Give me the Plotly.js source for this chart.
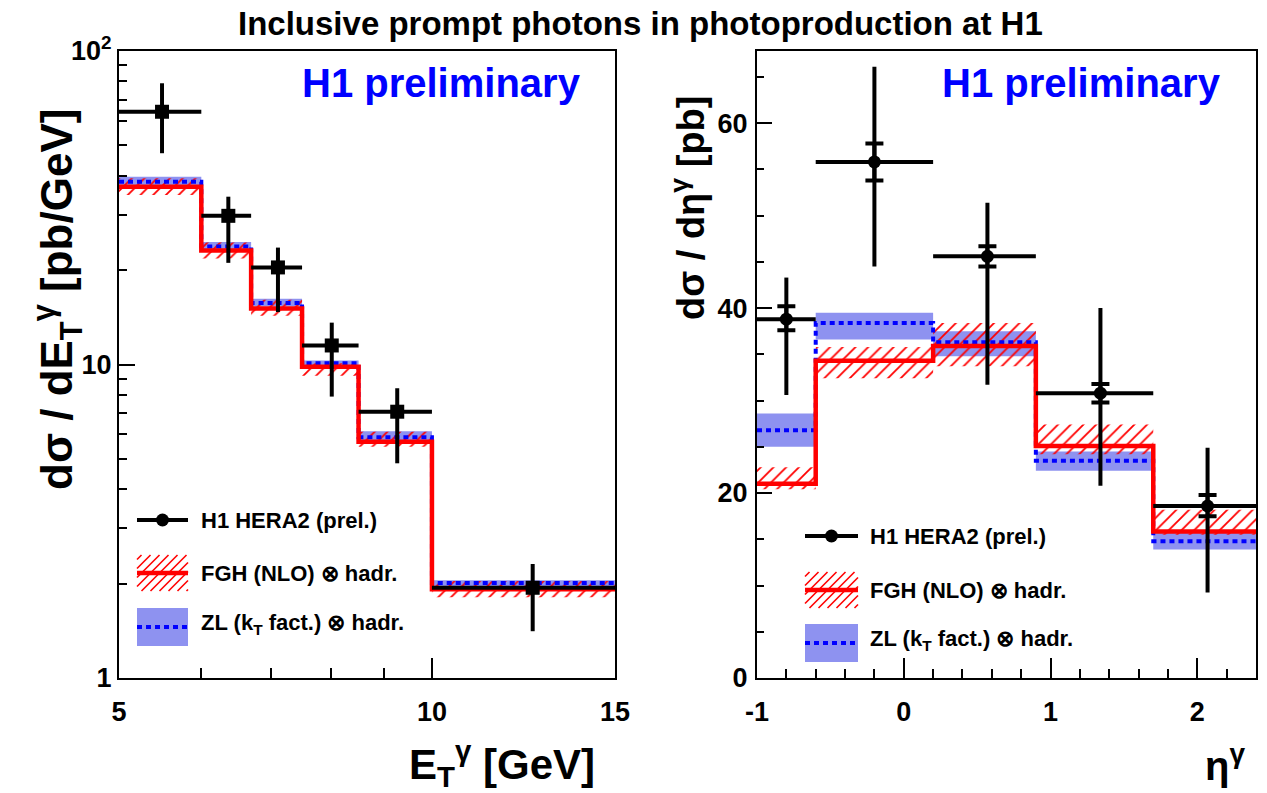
<!DOCTYPE html>
<html>
<head>
<meta charset="utf-8">
<script src="https://cdn.plot.ly/plotly-3.0.1.min.js"></script>
<style>html,body{margin:0;padding:0;background:#fff;}#chart{width:1267px;height:793px;}</style>
</head>
<body>
<div id="chart"></div>
<script>
// ---------------- data: E_T^gamma panel ----------------
const etEdges = [5, 6, 6.7, 7.5, 8.5, 10, 15];
const etCenters = [5.5, 6.37, 7.11, 8.01, 9.26, 12.5];
const etData = [64, 29.8, 20.4, 11.5, 7.07, 1.94];
const etErrUp = [14.9, 4.5, 3.2, 2.1, 1.33, 0.37];
const etErrDn = [16.8, 8.7, 5.7, 3.6, 2.23, 0.53];
const etFGH = [36.9, 23.1, 15.1, 9.84, 5.67, 1.92];
const etFGHlo = [34.7, 21.8, 14.3, 9.2, 5.47, 1.81];
const etFGHhi = [39.3, 24.5, 16.1, 10.1, 6.1, 2.04];
const etZL = [38.3, 23.8, 15.7, 10.1, 5.86, 2.01];
const etZLlo = [37.4, 23.3, 15.3, 9.9, 5.74, 1.94];
const etZLhi = [39.7, 24.6, 16.2, 10.3, 6.13, 2.05];

// ---------------- data: eta^gamma panel ----------------
const etaEdges = [-1.0, -0.6, 0.2, 0.9, 1.7, 2.4];
const etaCenters = [-0.8, -0.2, 0.57, 1.34, 2.07];
const etaData = [38.8, 55.8, 45.6, 30.8, 18.6];
const etaTotUp = [4.5, 10.3, 5.8, 9.2, 6.3];
const etaTotDn = [8.2, 11.3, 13.9, 10.0, 9.35];
const etaStatUp = [1.4, 2.0, 1.1, 1.0, 1.2];
const etaStatDn = [1.2, 2.0, 1.1, 1.0, 1.1];
const etaFGH = [21.0, 34.3, 35.9, 25.1, 15.85];
const etaFGHlo = [20.4, 32.4, 33.7, 24.2, 15.5];
const etaFGHhi = [22.8, 35.8, 38.4, 27.4, 18.2];
const etaZL = [26.8, 38.4, 36.3, 23.5, 14.8];
const etaZLlo = [25.0, 36.6, 34.8, 22.4, 13.9];
const etaZLhi = [28.6, 39.5, 37.5, 24.5, 15.7];

// ---------------- text ----------------
const mainTitle = 'Inclusive prompt photons in photoproduction at H1';
const prelimLabel = 'H1 preliminary';
const legendLabels = ['H1 HERA2 (prel.)', 'FGH (NLO) \u2297 hadr.', 'ZL (k<sub>T</sub> fact.) \u2297 hadr.'];
const etTickVals = [5, 10, 15];
const etTickText = ['5', '10', '15'];
const xsTickVals = [1, 10, 100];
const xsTickText = ['1', '10', '10<sup>2</sup>'];
const etaTickVals = [-1, 0, 1, 2];
const etaTickText = ['-1', '0', '1', '2'];
const dsTickVals = [0, 20, 40, 60];
const dsTickText = ['0', '20', '40', '60'];

// ---------------- styles ----------------
const W = 1267, H = 793;
const FONT = 'Liberation Sans, Arial, Helvetica, sans-serif';
const RED = '#ff0000';
const BLUE = '#0000ff';
const BAND = 'rgb(142,146,240)';
const px = x => x / W;
const py = y => 1 - y / H;

function bandPolys(edges, lo, hi) {
  const xs = [], ys = [];
  for (let i = 0; i < lo.length; i++) {
    xs.push(edges[i], edges[i + 1], edges[i + 1], edges[i], edges[i], null);
    ys.push(lo[i], lo[i], hi[i], hi[i], lo[i], null);
  }
  return {xs, ys};
}
function stepY(vals) { return vals.concat([vals[vals.length - 1]]); }

function panelTraces(edges, fgh, fghLo, fghHi, zl, zlLo, zlHi, xa, ya) {
  const zb = bandPolys(edges, zlLo, zlHi);
  const fb = bandPolys(edges, fghLo, fghHi);
  return [
    {x: zb.xs, y: zb.ys, xaxis: xa, yaxis: ya, type: 'scatter', mode: 'lines', fill: 'toself',
     fillcolor: BAND, line: {width: 0, color: BAND}, hoverinfo: 'skip', showlegend: false},
    {x: fb.xs, y: fb.ys, xaxis: xa, yaxis: ya, type: 'scatter', mode: 'lines', fill: 'toself',
     fillcolor: 'rgba(255,0,0,0)',
     fillpattern: {shape: '/', fgcolor: RED, bgcolor: 'rgba(0,0,0,0)', size: 9, solidity: 0.2},
     line: {width: 0, color: 'rgba(255,0,0,0)'}, hoverinfo: 'skip', showlegend: false},
    {x: edges, y: stepY(zl), xaxis: xa, yaxis: ya, type: 'scatter', mode: 'lines',
     line: {shape: 'hv', color: BLUE, width: 4, dash: '5px,4px'}, showlegend: false},
    {x: edges, y: stepY(fgh), xaxis: xa, yaxis: ya, type: 'scatter', mode: 'lines',
     line: {shape: 'hv', color: RED, width: 4.5}, showlegend: false}
  ];
}

const traces = [];
traces.push(...panelTraces(etEdges, etFGH, etFGHlo, etFGHhi, etZL, etZLlo, etZLhi, 'x', 'y'));
traces.push({
  x: etCenters, y: etData, xaxis: 'x', yaxis: 'y', type: 'scatter', mode: 'markers',
  marker: {symbol: 'square', size: 14, color: 'black'},
  error_y: {type: 'data', symmetric: false, array: etErrUp, arrayminus: etErrDn, thickness: 4, width: 0, color: 'black'},
  error_x: {type: 'data', symmetric: false,
    array: etCenters.map((c, i) => etEdges[i + 1] - c),
    arrayminus: etCenters.map((c, i) => c - etEdges[i]), thickness: 4, width: 0, color: 'black'},
  showlegend: false
});
traces.push(...panelTraces(etaEdges, etaFGH, etaFGHlo, etaFGHhi, etaZL, etaZLlo, etaZLhi, 'x2', 'y2'));
traces.push({
  x: etaCenters, y: etaData, xaxis: 'x2', yaxis: 'y2', type: 'scatter', mode: 'markers',
  marker: {symbol: 'circle', size: 1, color: 'rgba(0,0,0,0)'},
  error_y: {type: 'data', symmetric: false, array: etaStatUp, arrayminus: etaStatDn, thickness: 4, width: 9, color: 'black'},
  showlegend: false, hoverinfo: 'skip'
});
traces.push({
  x: etaCenters, y: etaData, xaxis: 'x2', yaxis: 'y2', type: 'scatter', mode: 'markers',
  marker: {symbol: 'circle', size: 13, color: 'black'},
  error_y: {type: 'data', symmetric: false, array: etaTotUp, arrayminus: etaTotDn, thickness: 4, width: 0, color: 'black'},
  error_x: {type: 'data', symmetric: false,
    array: etaCenters.map((c, i) => etaEdges[i + 1] - c),
    arrayminus: etaCenters.map((c, i) => c - etaEdges[i]), thickness: 4, width: 0, color: 'black'},
  showlegend: false
});

// ---------------- axes ----------------
const yDom = [py(678), py(51)];
const common = {
  ticks: 'inside', tickcolor: 'black', tickwidth: 2, showline: true, linecolor: 'black', linewidth: 2,
  mirror: true, showgrid: false, zeroline: false,
  tickfont: {family: FONT, size: 27, color: 'black', weight: 'bold'}
};
const minorCommon = {ticks: 'inside', tickcolor: 'black', tickwidth: 2, showgrid: false};

const layout = {
  width: W, height: H, margin: {l: 0, r: 0, t: 0, b: 0},
  paper_bgcolor: 'white', plot_bgcolor: 'white', showlegend: false,
  font: {family: FONT, color: 'black'},
  xaxis: Object.assign({}, common, {
    type: 'log', domain: [px(119), px(615)], range: [Math.log10(5), Math.log10(15)], anchor: 'y',
    tickmode: 'array', tickvals: etTickVals, ticktext: etTickText, ticklen: 20, ticklabelstandoff: 9,
    minor: Object.assign({}, minorCommon, {tickmode: 'array', tickvals: [6, 7, 8, 9], ticklen: 10})
  }),
  yaxis: Object.assign({}, common, {
    type: 'log', domain: yDom, range: [0, 2], anchor: 'x',
    tickmode: 'array', tickvals: xsTickVals, ticktext: xsTickText, ticklen: 16, ticklabelstandoff: 0,
    minor: Object.assign({}, minorCommon, {tickmode: 'array', tickvals: [2,3,4,5,6,7,8,9,20,30,40,50,60,70,80,90], ticklen: 8})
  }),
  xaxis2: Object.assign({}, common, {
    domain: [px(757), px(1256)], range: [-1.0, 2.4], anchor: 'y2',
    tickmode: 'array', tickvals: etaTickVals, ticktext: etaTickText, ticklen: 20, ticklabelstandoff: 9,
    minor: Object.assign({}, minorCommon, {tick0: -1, dtick: 0.2, ticklen: 9})
  }),
  yaxis2: Object.assign({}, common, {
    domain: yDom, range: [0, 67.8], anchor: 'x2',
    tickmode: 'array', tickvals: dsTickVals, ticktext: dsTickText, ticklen: 15, ticklabelstandoff: 2,
    minor: Object.assign({}, minorCommon, {tick0: 0, dtick: 5, ticklen: 7})
  }),
  annotations: [],
  shapes: []
};

function ann(text, x, y, size, opts) {
  layout.annotations.push(Object.assign({
    text: text, x: px(x), y: py(y), xref: 'paper', yref: 'paper', showarrow: false,
    font: {family: FONT, size: size, color: 'black', weight: 'bold'}, xanchor: 'center', yanchor: 'middle'
  }, opts || {}));
}

ann(mainTitle, 640, 23, 33);
ann(prelimLabel, 442, 83, 40, {font: {family: FONT, size: 40, color: BLUE, weight: 'bold'}});
ann(prelimLabel, 1081, 83, 40, {font: {family: FONT, size: 40, color: BLUE, weight: 'bold'}});
ann('d\u03c3 / dE<sub>T</sub><sup>\u03b3</sup> [pb/GeV]', 57, 300, 44, {textangle: -90});
ann('d\u03c3 / d\u03b7<sup>\u03b3</sup> [pb]', 688, 208, 38, {textangle: -90});
ann('E<sub>T</sub><sup>\u03b3</sup> [GeV]', 502, 763, 42);
ann('\u03b7<sup>\u03b3</sup>', 1225, 763, 40);

// ---------------- legends (decoration) ----------------
function rectShape(x0, y0, x1, y1, fill) {
  layout.shapes.push({type: 'rect', xref: 'paper', yref: 'paper', x0: px(x0), x1: px(x1), y0: py(y1), y1: py(y0),
    fillcolor: fill, line: {width: 0}, layer: 'above'});
}
function lineShape(x0, y0, x1, y1, color, width, dash) {
  layout.shapes.push({type: 'line', xref: 'paper', yref: 'paper', x0: px(x0), x1: px(x1), y0: py(y0), y1: py(y1),
    line: {color: color, width: width, dash: dash || 'solid'}, layer: 'above'});
}
function hatch(x0, y0, x1, y1, step) {
  for (let c = x0 + y0 + step / 2; c < x1 + y1; c += step) {
    const sx = Math.max(x0, c - y1), ex = Math.min(x1, c - y0);
    if (ex > sx) lineShape(sx, c - sx, ex, c - ex, RED, 1.6);
  }
}
function legendBlock(gx0, gx1, tx, rows) {
  lineShape(gx0, rows[0], gx1, rows[0], 'black', 4);
  const cx = (gx0 + gx1) / 2;
  layout.shapes.push({type: 'circle', xref: 'paper', yref: 'paper', x0: px(cx - 6.5), x1: px(cx + 6.5),
    y0: py(rows[0] + 6.5), y1: py(rows[0] - 6.5), fillcolor: 'black', line: {width: 0}, layer: 'above'});
  hatch(gx0, rows[1] - 18, gx1, rows[1] + 18, 9);
  lineShape(gx0, rows[1], gx1, rows[1], RED, 4.5);
  rectShape(gx0, rows[2] - 19, gx1, rows[2] + 19, BAND);
  lineShape(gx0, rows[2], gx1, rows[2], BLUE, 4, '5px,4px');
  ann(legendLabels[0], tx, rows[0], 22, {xanchor: 'left'});
  ann(legendLabels[1], tx, rows[1], 22, {xanchor: 'left'});
  ann(legendLabels[2], tx, rows[2] - 3, 22, {xanchor: 'left'});
}
legendBlock(137, 188, 199, [520, 573, 627]);
legendBlock(805, 858, 868, [536, 590, 643]);

Plotly.newPlot('chart', traces, layout, {staticPlot: true, displayModeBar: false});
</script>
</body>
</html>
